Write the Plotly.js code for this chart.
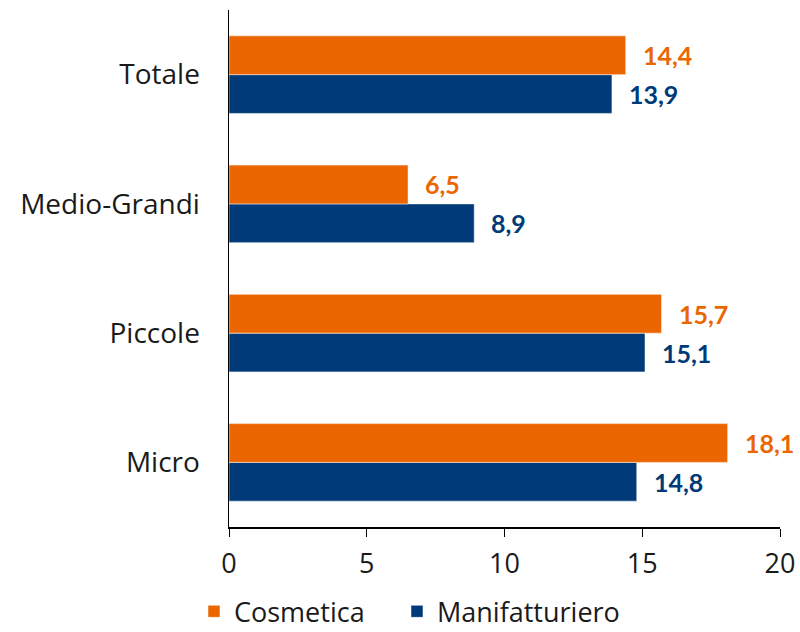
<!DOCTYPE html>
<html><head><meta charset="utf-8">
<script src="https://cdn.plot.ly/plotly-3.0.1.min.js"></script>
<style>body{margin:0;background:#fff}#c{width:800px;height:632px}</style>
</head><body><div id="c"></div>
<script>
const categories = ['Micro', 'Piccole', 'Medio-Grandi', 'Totale'];
const cosmetica = [18.1, 15.7, 6.5, 14.4];
const manifatturiero = [14.8, 15.1, 8.9, 13.9];
const seriesNames = ['Cosmetica', 'Manifatturiero'];
const xTicks = [0, 5, 10, 15, 20];

const orange = '#EB6600', blue = '#003A78';
const FONT = '"Open Sans", sans-serif';
const VFONT = 'Lato, sans-serif';
const fmt = v => v.toFixed(1).replace('.', ',');

const traces = [
  {type:'bar', orientation:'h', name:seriesNames[1], y:categories, x:manifatturiero, legend:'legend2',
   marker:{color:blue, line:{color:'#ffffff', width:0.5}}, hoverinfo:'none'},
  {type:'bar', orientation:'h', name:seriesNames[0], y:categories, x:cosmetica, legend:'legend',
   marker:{color:orange, line:{color:'#ffffff', width:0.5}}, hoverinfo:'none'}
];

const annotations = [];
categories.forEach((c, i) => {
  annotations.push({x:cosmetica[i], y:i+0.15, xref:'x', yref:'y', text:'<b>'+fmt(cosmetica[i])+'</b>',
    showarrow:false, xanchor:'left', xshift:15, font:{family:VFONT, size:25, color:orange}});
  annotations.push({x:manifatturiero[i], y:i-0.15, xref:'x', yref:'y', text:'<b>'+fmt(manifatturiero[i])+'</b>',
    showarrow:false, xanchor:'left', xshift:15, font:{family:VFONT, size:25, color:blue}});
});

const legendBase = {orientation:'h', xref:'container', xanchor:'left', yref:'container', y:0.032, yanchor:'middle',
  font:{family:FONT, size:27}, itemwidth:30};

const layout = {
  width:800, height:632,
  margin:{l:229, r:20, t:10, b:105},
  paper_bgcolor:'#fff', plot_bgcolor:'#fff',
  barmode:'group', bargap:0.4, bargroupgap:0,
  font:{family:FONT, size:28, color:'#1a1a1a'},
  xaxis:{range:[0,20], tickvals:xTicks, showgrid:false, zeroline:false, automargin:false,
    showline:true, linecolor:'#000', linewidth:1.5, ticks:'outside', ticklen:8, tickcolor:'#000',
    ticklabelstandoff:4, tickfont:{family:FONT, size:27}},
  yaxis:{type:'category', categoryorder:'array', categoryarray:categories, showgrid:false, zeroline:false,
    automargin:false, showline:true, linecolor:'#000', linewidth:1.5, ticks:'', ticklabelstandoff:22,
    tickfont:{family:FONT, size:28}},
  legend:Object.assign({}, legendBase, {x:194/800}),
  legend2:Object.assign({}, legendBase, {x:397/800}),
  annotations:annotations,
  showlegend:true
};
Plotly.newPlot('c', traces, layout, {displayModeBar:false, staticPlot:true});
</script></body></html>
